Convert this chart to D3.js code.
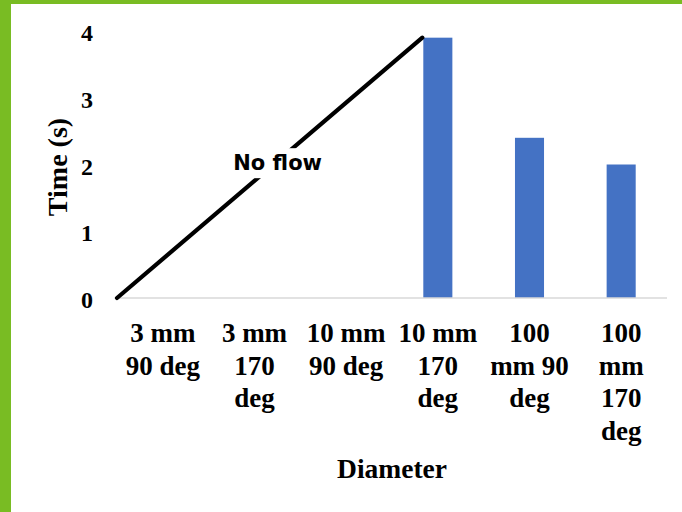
<!DOCTYPE html>
<html>
<head>
<meta charset="utf-8">
<script src="https://cdn.jsdelivr.net/npm/d3@7"></script>
<style>
  html, body { margin: 0; padding: 0; background: #fff; }
  svg { display: block; }
</style>
</head>
<body>
<svg id="chart" width="682" height="512"></svg>
<script>
// Flow time by pipe diameter and bend angle
const categories = ["3 mm 90 deg", "3 mm 170 deg", "10 mm 90 deg", "10 mm 170 deg", "100 mm 90 deg", "100 mm 170 deg"];
const times = [0, 0, 0, 3.9, 2.4, 2.0];
const yTicks = [0, 1, 2, 3, 4];
const noFlowLabel = "No flow";
// "No flow" guide: rises from zero to the first measured bar
const noFlowFrom = { category: "3 mm 90 deg", value: 0 };
const noFlowTo = { category: "10 mm 170 deg", value: 3.9 };

const W = 682, H = 512;
const svg = d3.select("#chart");
const serif = "'Liberation Serif', 'Times New Roman', serif";

svg.append("rect").attr("width", W).attr("height", H).attr("fill", "#fff");

// frame accents
svg.append("rect").attr("x", 0).attr("y", 0).attr("width", 11).attr("height", H).attr("fill", "#79bc23");
svg.append("rect").attr("x", 0).attr("y", 0).attr("width", W).attr("height", 4).attr("fill", "#79bc23");

const plot = { left: 117, right: 667, top: 31, bottom: 298 };

const x = d3.scaleBand()
  .domain(categories)
  .range([plot.left, plot.right])
  .paddingInner(0.683)
  .paddingOuter(0.3415);

const y = d3.scaleLinear().domain([0, 4]).range([plot.bottom, plot.top]);

// y tick labels (no axis line, no ticks)
const yAxis = d3.axisLeft(y).tickValues(yTicks).tickFormat(d3.format("d")).tickSize(0).tickPadding(24);
const gy = svg.append("g").attr("transform", `translate(${plot.left},0)`).call(yAxis);
gy.select(".domain").remove();
gy.selectAll("text")
  .attr("font-family", serif).attr("font-weight", "bold").attr("font-size", 24)
  .attr("fill", "#000").attr("dy", "0.4em");

// bars
svg.append("g").selectAll("rect")
  .data(categories.map((c, i) => ({ c, v: times[i] })).filter(d => d.v > 0))
  .join("rect")
  .attr("x", d => x(d.c))
  .attr("y", d => y(d.v))
  .attr("width", x.bandwidth())
  .attr("height", d => y(0) - y(d.v))
  .attr("fill", "#4472c4");

// category baseline
svg.append("line")
  .attr("x1", plot.left).attr("x2", plot.right)
  .attr("y1", y(0)).attr("y2", y(0))
  .attr("stroke", "#d9d9d9").attr("stroke-width", 1.5);

// No flow guide line
const p0 = [x(noFlowFrom.category) - x.step() * x.paddingOuter(), y(noFlowFrom.value)];
const p1 = [x(noFlowTo.category) - 1, y(noFlowTo.value)];
svg.append("path")
  .attr("d", d3.line()([p0, p1]))
  .attr("stroke", "#000").attr("stroke-width", 4.2)
  .attr("stroke-linecap", "round").attr("fill", "none");

const mid = [(p0[0] + p1[0]) / 2 + 8, (p0[1] + p1[1]) / 2 - 5];
const nf = svg.append("g").attr("transform", `translate(${mid[0]},${mid[1]})`);
const nfText = nf.append("text")
  .attr("text-anchor", "middle").attr("dy", "0.35em")
  .attr("font-family", "'DejaVu Sans', sans-serif").attr("font-weight", "bold")
  .attr("font-size", 21).attr("fill", "#000")
  .text(noFlowLabel);
const bb = nfText.node().getBBox();
nf.insert("rect", "text")
  .attr("x", bb.x - 4).attr("y", bb.y - 3)
  .attr("width", bb.width + 8).attr("height", bb.height + 6)
  .attr("fill", "#fff");

// category labels, wrapped to a fixed width
const labelSize = 27;
const wrapWidth = 84;
const lineH = 32.5;
const gx = svg.append("g");
const probe = svg.append("text").attr("font-family", serif).attr("font-weight", "bold").attr("font-size", labelSize);
categories.forEach(c => {
  const cx = x(c) + x.bandwidth() / 2;
  const t = gx.append("text")
    .attr("x", cx)
    .attr("y", 342)
    .attr("text-anchor", "middle")
    .attr("font-family", serif).attr("font-weight", "bold")
    .attr("font-size", labelSize).attr("fill", "#000");
  const words = c.split(" ");
  let lines = [], cur = [];
  words.forEach(w => {
    probe.text(cur.concat([w]).join(" "));
    if (cur.length && probe.node().getComputedTextLength() > wrapWidth) {
      lines.push(cur.join(" "));
      cur = [w];
    } else cur.push(w);
  });
  lines.push(cur.join(" "));
  lines.forEach((ln, i) => {
    t.append("tspan").attr("x", cx).attr("dy", i === 0 ? 0 : lineH).text(ln);
  });
});
probe.remove();

// axis titles
svg.append("text")
  .attr("transform", `translate(67,167) rotate(-90)`)
  .attr("text-anchor", "middle")
  .attr("font-family", serif).attr("font-weight", "bold").attr("font-size", 28)
  .text("Time (s)");

svg.append("text")
  .attr("x", (plot.left + plot.right) / 2)
  .attr("y", 478)
  .attr("text-anchor", "middle")
  .attr("font-family", serif).attr("font-weight", "bold").attr("font-size", 27.5)
  .text("Diameter");
</script>
</body>
</html>
